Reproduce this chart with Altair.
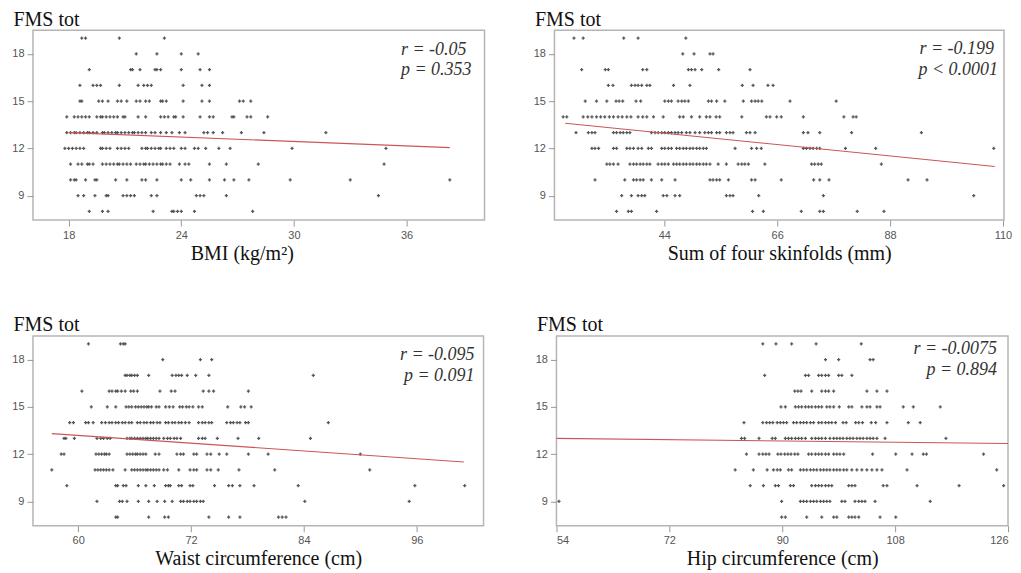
import altair as alt
import pandas as pd

# ---------------- data ----------------
Y_TICKS = [9, 12, 15, 18]

bmi_rows = {
    19: [18.7, 18.9, 20.7, 23.1],
    18: [21.6, 22.7, 24.0, 24.9],
    17: [19.1, 21.3, 21.4, 21.8, 22.6, 22.7, 22.9, 24.0, 25.0, 25.5],
    16: [18.6, 19.3, 19.5, 19.7, 20.7, 21.7, 22.0, 22.2, 22.4, 24.1, 25.1, 25.5],
    15: [18.6, 18.7, 19.6, 19.8, 20.1, 20.6, 20.8, 21.1, 21.6, 21.8, 22.1, 22.3, 22.9, 23.0, 23.2, 24.1, 25.1, 25.5, 27.1, 27.3, 27.7],
    14: [17.9, 18.3, 18.5, 18.7, 18.9, 19.1, 19.5, 19.7, 19.8, 20.0, 20.2, 20.4, 20.6, 20.9, 21.0, 21.7, 22.1, 22.9, 23.1, 23.3, 23.6, 23.7, 24.1, 25.0, 25.5, 25.7, 26.7, 26.8, 27.5, 27.7, 28.6],
    13: [17.9, 18.1, 18.3, 18.4, 18.6, 18.8, 19.0, 19.1, 19.3, 19.5, 19.8, 19.9, 20.1, 20.3, 20.5, 20.6, 20.8, 21.0, 21.2, 21.4, 21.5, 21.7, 21.9, 22.1, 22.4, 22.6, 22.9, 23.2, 23.5, 23.9, 24.2, 25.2, 25.4, 25.7, 26.2, 27.2, 28.4, 31.7],
    12: [17.8, 18.0, 18.2, 18.4, 18.6, 18.8, 19.7, 19.8, 20.0, 20.2, 20.6, 20.8, 21.0, 21.2, 21.9, 22.1, 22.2, 22.4, 22.6, 22.8, 22.9, 23.2, 23.4, 23.6, 24.0, 24.2, 24.7, 24.9, 25.3, 26.0, 26.6, 29.9, 34.9],
    11: [18.1, 18.5, 18.7, 19.0, 19.1, 19.3, 19.8, 20.0, 20.2, 20.4, 20.6, 20.7, 20.9, 21.1, 21.3, 21.6, 21.8, 22.0, 22.1, 22.3, 22.5, 22.7, 22.9, 23.0, 23.2, 23.4, 23.9, 24.2, 24.4, 25.5, 26.4, 28.1, 34.8],
    10: [18.1, 18.3, 18.4, 18.9, 19.4, 19.5, 20.5, 21.1, 21.9, 22.1, 22.7, 24.0, 24.5, 25.5, 26.3, 26.8, 27.6, 29.8, 33.0, 38.3],
    9: [18.5, 18.8, 19.4, 20.0, 20.1, 20.9, 21.1, 21.3, 21.5, 22.4, 22.7, 24.8, 25.0, 25.2, 26.4, 34.5],
    8: [19.1, 19.8, 20.1, 22.5, 23.5, 23.6, 23.8, 24.0, 24.7, 27.8],
}

skin_rows = {
    19: [26.4, 28.2, 36.1, 38.9, 48.2],
    18: [47.6, 49.8, 52.9, 53.5],
    17: [27.9, 32.5, 33.1, 39.8, 40.6, 48.7, 49.3, 50.0, 51.3, 54.6, 60.7],
    16: [33.1, 34.0, 37.6, 38.3, 38.9, 39.6, 40.6, 41.2, 45.8, 49.0, 59.2, 61.3, 64.2, 65.2],
    15: [28.6, 30.8, 32.8, 34.6, 35.2, 35.9, 38.5, 39.4, 44.1, 44.8, 45.4, 46.7, 47.4, 48.0, 48.7, 52.6, 53.2, 54.2, 55.8, 59.4, 61.0, 61.7, 62.3, 63.0, 68.5, 77.5],
    14: [24.3, 25.0, 28.2, 29.1, 29.9, 30.8, 31.6, 32.4, 33.3, 34.1, 35.0, 35.8, 36.7, 37.5, 38.9, 39.8, 40.6, 41.9, 43.8, 47.0, 47.7, 49.3, 50.9, 52.2, 52.9, 54.1, 54.8, 59.1, 63.9, 64.6, 65.9, 66.8, 71.1, 79.0, 80.8, 81.4],
    13: [26.8, 29.2, 29.9, 30.5, 34.1, 34.7, 35.4, 36.0, 36.7, 37.3, 41.5, 42.2, 42.8, 43.5, 44.1, 44.8, 45.4, 46.1, 46.7, 47.4, 48.3, 49.0, 50.0, 50.9, 51.9, 52.6, 53.2, 54.2, 54.8, 56.1, 56.8, 57.4, 60.0, 60.7, 61.7, 71.1, 72.0, 74.3, 80.5, 94.1],
    12: [29.9, 30.5, 31.2, 34.1, 34.7, 36.7, 37.3, 38.0, 38.9, 39.6, 40.9, 41.5, 43.5, 44.1, 44.8, 45.4, 46.4, 47.0, 47.7, 48.3, 49.0, 49.6, 50.3, 50.9, 51.6, 52.2, 57.8, 61.0, 62.0, 62.9, 71.1, 71.7, 72.4, 73.0, 73.7, 74.3, 79.3, 85.2, 108.2],
    11: [32.8, 33.4, 34.1, 35.0, 37.3, 38.0, 38.6, 39.3, 39.9, 40.6, 41.2, 42.8, 43.5, 44.1, 44.8, 45.8, 46.4, 47.0, 47.7, 48.3, 49.0, 49.6, 50.3, 50.9, 51.6, 52.2, 52.9, 54.5, 56.1, 58.4, 59.1, 59.7, 60.4, 63.6, 72.7, 73.3, 74.0, 74.6, 86.3],
    10: [30.5, 36.3, 38.0, 38.6, 39.3, 39.9, 41.5, 43.5, 46.1, 52.9, 53.5, 54.2, 54.8, 56.5, 61.0, 61.7, 66.8, 73.1, 74.3, 76.1, 91.5, 95.2],
    9: [35.7, 37.6, 38.9, 39.6, 40.2, 43.8, 44.5, 46.1, 47.0, 56.1, 56.8, 57.4, 62.4, 75.0, 104.3],
    8: [34.7, 37.0, 37.6, 42.5, 61.2, 63.3, 70.7, 74.3, 75.0, 81.6, 86.8],
}

waist_rows = {
    19: [61.1, 64.5, 64.8, 65.0],
    18: [69.0, 73.0, 74.2],
    17: [65.0, 65.2, 65.5, 65.7, 66.0, 66.3, 67.5, 70.0, 70.4, 70.7, 71.0, 71.6, 72.5, 73.9, 85.0],
    16: [60.4, 63.3, 63.6, 64.0, 64.2, 64.6, 65.0, 65.6, 65.9, 66.3, 68.7, 69.9, 70.3, 73.3, 73.9, 74.4, 78.1],
    15: [61.4, 63.1, 64.0, 65.1, 65.4, 65.7, 66.1, 66.4, 66.7, 67.0, 67.3, 67.5, 67.8, 68.3, 68.6, 69.3, 69.7, 70.1, 70.8, 71.1, 71.5, 71.8, 72.2, 72.8, 73.2, 75.9, 77.3, 77.7, 78.4],
    14: [59.1, 59.5, 60.8, 61.1, 61.6, 62.5, 62.9, 63.3, 63.6, 64.0, 64.3, 64.7, 65.0, 65.4, 65.7, 66.3, 66.6, 67.0, 67.3, 67.7, 68.0, 68.4, 68.7, 69.3, 69.6, 70.0, 70.3, 70.7, 71.0, 71.4, 71.8, 72.8, 73.2, 73.5, 73.9, 74.2, 75.8, 76.2, 76.5, 76.9, 77.2, 77.8, 78.1, 86.6],
    13: [58.5, 58.7, 59.6, 62.0, 62.4, 62.7, 63.1, 63.4, 65.2, 65.5, 65.7, 66.0, 66.3, 66.6, 66.9, 67.2, 67.4, 67.7, 68.0, 68.3, 68.6, 69.1, 69.5, 69.8, 70.2, 70.5, 70.9, 72.8, 73.2, 73.5, 74.8, 77.0, 79.2, 84.7],
    12: [58.2, 58.5, 61.9, 62.2, 62.5, 62.8, 63.0, 63.3, 65.2, 65.5, 65.8, 66.1, 66.3, 66.6, 66.9, 67.2, 68.2, 68.6, 70.5, 70.9, 71.2, 72.3, 72.6, 73.7, 74.1, 75.0, 75.8, 78.1, 80.2, 90.0],
    11: [57.2, 61.8, 62.1, 62.4, 62.7, 63.0, 63.3, 63.7, 65.0, 65.7, 66.0, 66.3, 66.6, 66.9, 67.2, 67.4, 67.7, 68.0, 68.3, 68.6, 69.1, 69.5, 70.7, 71.9, 72.3, 72.6, 73.7, 74.1, 74.9, 77.1, 80.9, 91.0],
    10: [58.8, 64.0, 64.2, 64.8, 65.1, 66.4, 67.2, 68.1, 69.3, 69.6, 69.8, 70.7, 71.0, 71.9, 72.2, 74.5, 76.0, 76.4, 77.2, 78.7, 83.4, 95.8, 101.1],
    9: [62.0, 64.4, 64.7, 65.2, 66.4, 67.5, 68.4, 69.2, 70.0, 70.9, 71.2, 71.6, 71.9, 72.3, 72.6, 73.0, 73.3, 84.1, 95.2],
    8: [64.0, 64.2, 67.5, 69.2, 69.6, 73.9, 76.0, 77.2, 81.3, 81.7, 82.1],
}

hip_rows = {
    19: [86.9, 89.0, 91.5, 95.4, 102.6],
    18: [96.9, 99.0, 104.0, 104.5],
    17: [87.2, 93.7, 94.2, 95.8, 96.3, 96.9, 97.4, 99.0, 99.5, 101.1],
    16: [92.0, 92.5, 93.0, 94.7, 96.3, 96.9, 97.4, 98.2, 103.5, 105.1, 106.7],
    15: [89.8, 90.5, 92.1, 92.6, 93.1, 93.7, 94.2, 94.7, 95.3, 95.8, 96.3, 97.1, 97.6, 98.2, 99.1, 100.6, 101.1, 102.7, 103.5, 104.0, 105.1, 105.6, 109.3, 110.9, 115.2],
    14: [83.9, 86.9, 87.5, 88.0, 88.5, 89.2, 89.7, 90.2, 90.7, 91.8, 92.3, 92.9, 93.4, 93.9, 94.5, 95.0, 95.8, 96.3, 96.9, 97.4, 97.9, 98.5, 99.7, 100.2, 101.7, 102.2, 102.8, 104.2, 104.9, 106.7, 110.1, 112.0],
    13: [83.5, 84.0, 86.3, 88.4, 88.9, 90.5, 91.0, 91.5, 92.1, 92.6, 93.1, 93.7, 94.7, 95.3, 95.8, 96.3, 96.9, 97.6, 98.2, 98.7, 99.2, 99.7, 100.3, 100.8, 101.3, 101.9, 102.4, 102.9, 103.5, 104.0, 104.5, 105.1, 106.4, 116.1],
    12: [84.3, 86.3, 86.9, 87.4, 87.9, 89.3, 89.8, 90.4, 90.9, 91.4, 92.0, 92.5, 94.2, 94.7, 95.3, 95.8, 96.3, 96.9, 97.4, 98.2, 98.7, 99.2, 99.8, 104.4, 108.1, 110.7, 112.5, 113.0, 122.1],
    11: [82.5, 85.4, 87.6, 88.6, 89.2, 89.7, 91.0, 91.5, 92.9, 93.4, 93.9, 94.5, 95.0, 95.5, 96.1, 96.6, 97.1, 97.6, 98.2, 98.7, 99.2, 99.8, 100.3, 101.1, 101.9, 102.7, 103.5, 104.3, 105.1, 105.9, 109.9, 124.2],
    10: [84.9, 87.0, 88.9, 89.4, 91.3, 91.8, 94.7, 95.3, 95.8, 96.3, 96.9, 97.4, 97.9, 100.6, 101.1, 101.6, 106.1, 106.7, 111.5, 118.2, 125.3],
    9: [54.4, 89.9, 92.9, 93.4, 93.9, 94.5, 95.0, 95.5, 96.1, 96.6, 97.1, 97.6, 99.5, 100.0, 101.6, 102.2, 102.7, 103.2, 104.8, 113.6],
    8: [89.9, 90.5, 93.9, 96.3, 98.2, 98.7, 100.6, 101.1, 101.6, 102.2, 105.6, 108.1],
}

# regression line end points
bmi_fit_x, bmi_fit_y = [18.0, 38.3], [13.0, 12.05]
skin_fit_x, skin_fit_y = [24.7, 108.4], [13.6, 10.85]
waist_fit_x, waist_fit_y = [57.2, 101.0], [13.3, 11.5]
hip_fit_x, hip_fit_y = [54.0, 126.0], [13.0, 12.67]

# axis settings
bmi_domain, bmi_ticks = [16.1, 40.15], [18, 24, 30, 36]
skin_domain, skin_ticks = [22.6, 110.2], [44, 66, 88, 110]
waist_domain, waist_ticks = [55.2, 103.1], [60, 72, 84, 96]
hip_domain, hip_ticks = [54, 126], [54, 72, 90, 108, 126]

titles = ["BMI (kg/m²)", "Sum of four skinfolds (mm)", "Waist circumference (cm)", "Hip circumference (cm)"]
r_texts = ["r = -0.05", "r = -0.199", "r = -0.095", "r = -0.0075"]
p_texts = ["p = 0.353", "p < 0.0001", "p = 0.091", "p = 0.894"]

Y_DOMAIN = [7.45, 19.5]
H = 190
SERIF = "Liberation Serif"
SANS = "Liberation Sans"


def rows_to_df(rows):
    xs, ys = [], []
    for yv, xl in rows.items():
        for xv in xl:
            xs.append(xv)
            ys.append(yv)
    return pd.DataFrame({"x": xs, "y": ys})


def panel(rows, fit_x, fit_y, domain, ticks, xtitle, rt, pt, width,
          r_off, p_off, r_y, p_y, title_dx=0):
    df = rows_to_df(rows)
    xscale = alt.Scale(domain=domain, nice=False, zero=False)
    yscale = alt.Scale(domain=Y_DOMAIN, nice=False, zero=False)
    xaxis = alt.Axis(values=ticks, title=xtitle, titleX=width / 2 + title_dx,
                     titleY=39, titleBaseline="alphabetic", labelPadding=3,
                     titleFont=SERIF, titleFontSize=20, titleFontWeight="normal",
                     titleColor="#111")
    yaxis = alt.Axis(values=Y_TICKS, title="FMS tot", titleAngle=0, titleX=-20,
                     titleY=-5, titleAlign="left", titleBaseline="alphabetic",
                     labelPadding=3, titleFont=SERIF, titleFontSize=20,
                     titleFontWeight="normal", titleColor="#111")
    pts = alt.Chart(df).mark_point(shape="cross", filled=True, size=10,
                                   color="#3a3a3a", opacity=0.85).encode(
        x=alt.X("x:Q", scale=xscale, axis=xaxis),
        y=alt.Y("y:Q", scale=yscale, axis=yaxis),
    )
    fit = alt.Chart(pd.DataFrame({"x": fit_x, "y": fit_y})).mark_line(
        color="#cc5555", strokeWidth=1.1).encode(
        x=alt.X("x:Q", scale=xscale), y=alt.Y("y:Q", scale=yscale))
    one = pd.DataFrame({"a": [0]})
    rtxt = alt.Chart(one).mark_text(text=rt, align="right", baseline="middle",
                                    font=SERIF, fontStyle="italic", fontSize=18,
                                    color="#333").encode(
        x=alt.value(width - r_off), y=alt.value(r_y))
    ptxt = alt.Chart(one).mark_text(text=pt, align="right", baseline="middle",
                                    font=SERIF, fontStyle="italic", fontSize=18,
                                    color="#333").encode(
        x=alt.value(width - p_off), y=alt.value(p_y))
    return alt.layer(pts, fit, rtxt, ptxt).properties(width=width, height=H)


p1 = panel(bmi_rows, bmi_fit_x, bmi_fit_y, bmi_domain, bmi_ticks, titles[0],
           r_texts[0], p_texts[0], 452, 18, 13, 20, 40, title_dx=-17)
p2 = panel(skin_rows, skin_fit_x, skin_fit_y, skin_domain, skin_ticks, titles[1],
           r_texts[1], p_texts[1], 450, 10, 6, 19, 40)
p3 = panel(waist_rows, waist_fit_x, waist_fit_y, waist_domain, waist_ticks, titles[2],
           r_texts[2], p_texts[2], 451, 9, 9, 19, 40)
p4 = panel(hip_rows, hip_fit_x, hip_fit_y, hip_domain, hip_ticks, titles[3],
           r_texts[3], p_texts[3], 452, 11, 11, 13, 34)

row1 = alt.hconcat(p1, p2, spacing=47)
row2 = alt.hconcat(p3, p4, spacing=50)

chart = alt.vconcat(row1, row2, spacing=50).properties(
    padding={"left": 3, "top": 0, "right": 0, "bottom": 0},
    background="white",
).configure_view(stroke="#b5b5b5", strokeWidth=1.5).configure_axis(
    labelFont=SANS, labelFontSize=11, labelColor="#555",
    tickColor="#999", tickSize=6, domain=False, grid=False,
)

chart.save("out.html", embed_options={"renderer": "svg", "actions": False})
